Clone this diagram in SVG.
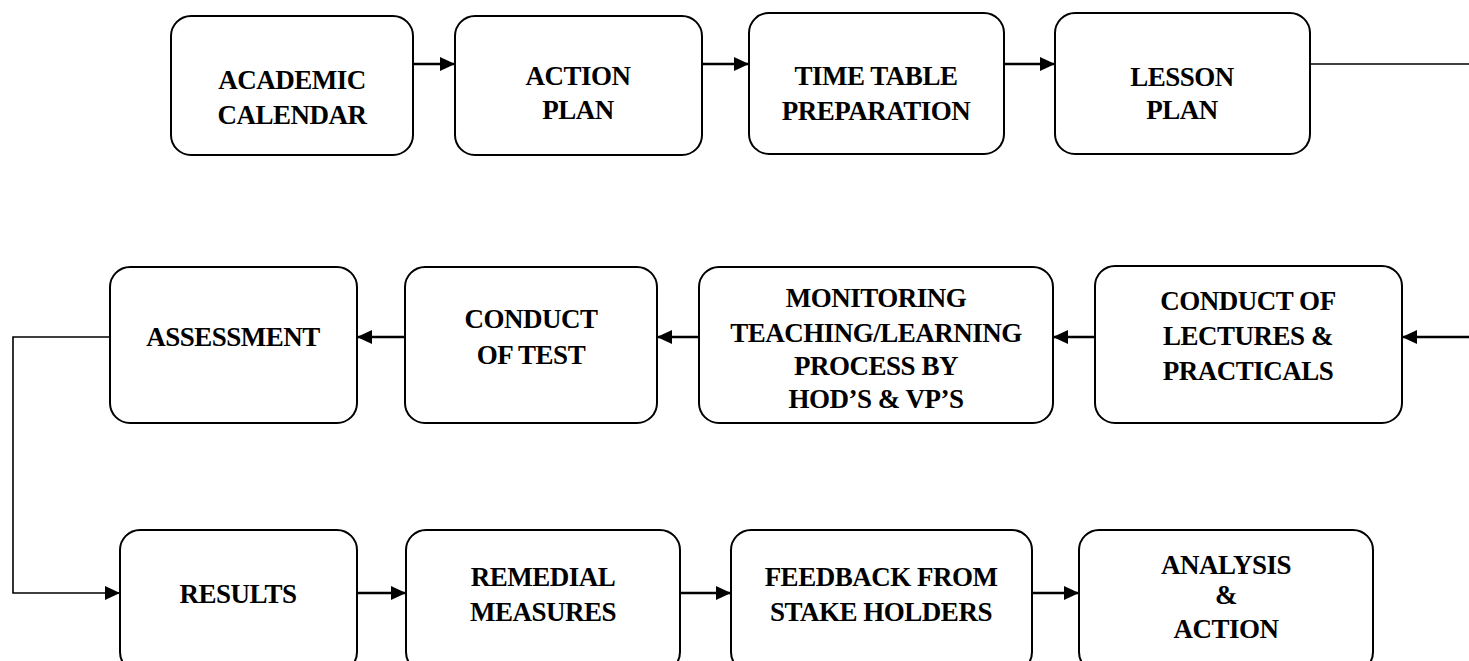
<svg xmlns="http://www.w3.org/2000/svg" width="1469" height="661" viewBox="0 0 1469 661">
<style>
  .box { fill: #ffffff; stroke: #000000; stroke-width: 2; }
  .lbl { font-family: "Liberation Serif", "Times New Roman", serif; font-weight: bold; font-size: 27px; letter-spacing: -0.5px; fill: #000000; text-anchor: middle; }
  .conn { fill: none; stroke: #000000; stroke-width: 2.5; }
  .thin { fill: none; stroke: #000000; stroke-width: 1.6; }
</style>
<defs>
  <marker id="ah" viewBox="0 0 15 14" refX="15" refY="7" markerWidth="15" markerHeight="14" markerUnits="userSpaceOnUse" orient="auto">
    <path d="M0,0 L15,7 L0,14 Z" fill="#000000"/>
  </marker>
</defs>
<rect width="1469" height="661" fill="#ffffff"/>

<g id="connectors">
  <line class="conn" x1="413" y1="64" x2="455" y2="64" marker-end="url(#ah)"/>
  <line class="conn" x1="702" y1="64" x2="749" y2="64" marker-end="url(#ah)"/>
  <line class="conn" x1="1004" y1="64" x2="1055" y2="64" marker-end="url(#ah)"/>
  <line class="thin" x1="1310" y1="64" x2="1469" y2="64"/>
  <line class="conn" x1="1469" y1="337" x2="1402" y2="337" marker-end="url(#ah)"/>
  <line class="conn" x1="1095" y1="337" x2="1053" y2="337" marker-end="url(#ah)"/>
  <line class="conn" x1="699" y1="337" x2="657" y2="337" marker-end="url(#ah)"/>
  <line class="conn" x1="405" y1="337" x2="357" y2="337" marker-end="url(#ah)"/>
  <polyline class="thin" points="110,337 13,337 13,593 120,593" marker-end="url(#ah)"/>
  <line class="conn" x1="357" y1="593" x2="406" y2="593" marker-end="url(#ah)"/>
  <line class="conn" x1="680" y1="593" x2="731" y2="593" marker-end="url(#ah)"/>
  <line class="conn" x1="1032" y1="593" x2="1079" y2="593" marker-end="url(#ah)"/>
</g>

<g id="academic-calendar">
  <rect class="box" x="171" y="16" width="242" height="139" rx="20" ry="20"/>
  <text class="lbl" x="292" y="89">ACADEMIC</text>
  <text class="lbl" x="292" y="124">CALENDAR</text>
</g>
<g id="action-plan">
  <rect class="box" x="455" y="16" width="247" height="139" rx="20" ry="20"/>
  <text class="lbl" x="578" y="85">ACTION</text>
  <text class="lbl" x="578" y="119">PLAN</text>
</g>
<g id="time-table">
  <rect class="box" x="749" y="13" width="255" height="141" rx="20" ry="20"/>
  <text class="lbl" x="876" y="85">TIME TABLE</text>
  <text class="lbl" x="876" y="120">PREPARATION</text>
</g>
<g id="lesson-plan">
  <rect class="box" x="1055" y="13" width="255" height="141" rx="20" ry="20"/>
  <text class="lbl" x="1182" y="86">LESSON</text>
  <text class="lbl" x="1182" y="119">PLAN</text>
</g>

<g id="conduct-lectures">
  <rect class="box" x="1095" y="266" width="307" height="157" rx="20" ry="20"/>
  <text class="lbl" x="1248" y="310">CONDUCT OF</text>
  <text class="lbl" x="1248" y="345">LECTURES &amp;</text>
  <text class="lbl" x="1248" y="380">PRACTICALS</text>
</g>
<g id="monitoring">
  <rect class="box" x="699" y="267" width="354" height="156" rx="20" ry="20"/>
  <text class="lbl" x="876" y="307">MONITORING</text>
  <text class="lbl" x="876" y="342">TEACHING/LEARNING</text>
  <text class="lbl" x="876" y="375">PROCESS BY</text>
  <text class="lbl" x="876" y="408">HOD’S &amp; VP’S</text>
</g>
<g id="conduct-test">
  <rect class="box" x="405" y="267" width="252" height="156" rx="20" ry="20"/>
  <text class="lbl" x="531" y="328">CONDUCT</text>
  <text class="lbl" x="531" y="364">OF TEST</text>
</g>
<g id="assessment">
  <rect class="box" x="110" y="267" width="247" height="156" rx="20" ry="20"/>
  <text class="lbl" x="233" y="346">ASSESSMENT</text>
</g>

<g id="results">
  <rect class="box" x="120" y="530" width="237" height="142" rx="20" ry="20"/>
  <text class="lbl" x="238" y="603">RESULTS</text>
</g>
<g id="remedial">
  <rect class="box" x="406" y="530" width="274" height="142" rx="20" ry="20"/>
  <text class="lbl" x="543" y="586">REMEDIAL</text>
  <text class="lbl" x="543" y="621">MEASURES</text>
</g>
<g id="feedback">
  <rect class="box" x="731" y="530" width="301" height="142" rx="20" ry="20"/>
  <text class="lbl" x="881" y="586">FEEDBACK FROM</text>
  <text class="lbl" x="881" y="621">STAKE HOLDERS</text>
</g>
<g id="analysis">
  <rect class="box" x="1079" y="530" width="294" height="142" rx="20" ry="20"/>
  <text class="lbl" x="1226" y="574">ANALYSIS</text>
  <text class="lbl" x="1226" y="604">&amp;</text>
  <text class="lbl" x="1226" y="638">ACTION</text>
</g>
</svg>
